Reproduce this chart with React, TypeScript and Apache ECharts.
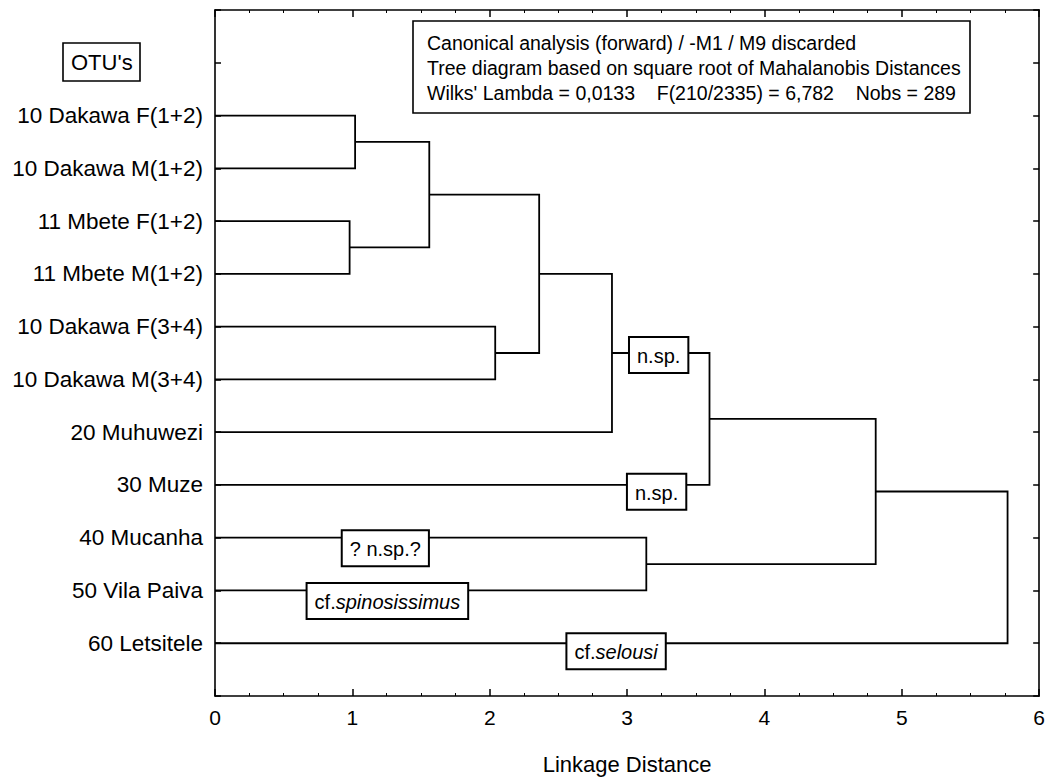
import React, { useEffect, useRef } from 'react';
import * as echarts from 'echarts';

const FONT = '"Liberation Sans", Arial, Helvetica, sans-serif';

const leaves = [
  '10 Dakawa F(1+2)',
  '10 Dakawa M(1+2)',
  '11 Mbete F(1+2)',
  '11 Mbete M(1+2)',
  '10 Dakawa F(3+4)',
  '10 Dakawa M(3+4)',
  '20 Muhuwezi',
  '30 Muze',
  '40 Mucanha',
  '50 Vila Paiva',
  '60 Letsitele',
];

// merges: node ids 0..10 are leaves, 11.. are clusters in order of creation
const mergeLeft = [0, 2, 11, 4, 13, 15, 16, 8, 17, 19];
const mergeRight = [1, 3, 12, 5, 14, 6, 7, 9, 18, 10];
const mergeHeight = [1.02, 0.98, 1.56, 2.04, 2.36, 2.89, 3.6, 3.14, 4.81, 5.77];

const cladePlain = ['n.sp.', 'n.sp.', '? n.sp.?', 'cf.', 'cf.'];
const cladeItalic = ['', '', '', 'spinosissimus', 'selousi'];
const cladeX = [3.23, 3.215, 1.24, 1.255, 2.92];
const cladeY = [6.54, 9.13, 10.2, 11.2, 12.15];

const infoLines = [
  'Canonical analysis (forward) / -M1 / M9 discarded',
  'Tree diagram based on square root of Mahalanobis Distances',
  "Wilks' Lambda = 0,0133\u00a0\u00a0\u00a0\u00a0F(210/2335) = 6,782\u00a0\u00a0\u00a0\u00a0Nobs = 289",
];
const otuTitle = "OTU's";
const xAxisName = 'Linkage Distance';
const xMin = 0;
const xMax = 6;

const mkLine = () => ({ show: true, onZero: false, lineStyle: { color: '#000', width: 1.6 } });
const mkTick = (len: number) => ({
  show: true,
  inside: true,
  length: len,
  lineStyle: { color: '#000', width: 1.5 },
});
const mkMinor = () => ({ show: true, splitNumber: 4, length: 3, lineStyle: { color: '#000', width: 1 } });

export default function App() {
  const ref = useRef<HTMLDivElement>(null);

  useEffect(() => {
    if (!ref.current) return;
    const chart = echarts.init(ref.current, undefined, { renderer: 'svg' });

    const n = leaves.length;
    const yMax = n + 2;
    const nodeX: number[] = [];
    const nodeY: number[] = [];
    for (let i = 0; i < n; i++) {
      nodeX.push(0);
      nodeY.push(i + 2);
    }
    const segs: number[][][] = [];
    for (let k = 0; k < mergeHeight.length; k++) {
      const l = mergeLeft[k];
      const r = mergeRight[k];
      const h = mergeHeight[k];
      segs.push([
        [nodeX[l], nodeY[l]],
        [h, nodeY[l]],
        [h, nodeY[r]],
        [nodeX[r], nodeY[r]],
      ]);
      nodeX.push(h);
      nodeY.push((nodeY[l] + nodeY[r]) / 2);
    }

    chart.setOption({
      animation: false,
      backgroundColor: '#fff',
      title: [
        {
          text: infoLines.join('\n'),
          left: 413,
          top: 21,
          padding: [9, 10, 8, 14],
          borderColor: '#000',
          borderWidth: 1.6,
          backgroundColor: '#fff',
          textStyle: { fontSize: 19.5, fontWeight: 'normal', lineHeight: 25, color: '#000', fontFamily: FONT },
          z: 10,
        },
        {
          text: otuTitle,
          left: 63,
          top: 43,
          padding: [8, 8, 8, 8],
          borderColor: '#000',
          borderWidth: 1.6,
          textStyle: { fontSize: 22, fontWeight: 'normal', color: '#000', fontFamily: FONT },
        },
      ],
      grid: { left: 215, right: 5, top: 10, bottom: 84, containLabel: false },
      xAxis: [
        {
          type: 'value',
          min: xMin,
          max: xMax,
          interval: 1,
          position: 'bottom',
          axisLine: mkLine(),
          axisTick: mkTick(7),
          minorTick: mkMinor(),
          splitLine: { show: false },
          axisLabel: { color: '#000', fontSize: 21, margin: 11, fontFamily: FONT },
          name: xAxisName,
          nameLocation: 'middle',
          nameGap: 57,
          nameTextStyle: { color: '#000', fontSize: 22, fontFamily: FONT },
        },
        {
          type: 'value',
          min: xMin,
          max: xMax,
          interval: 1,
          position: 'top',
          axisLine: mkLine(),
          axisTick: mkTick(7),
          minorTick: mkMinor(),
          splitLine: { show: false },
          axisLabel: { show: false },
        },
      ],
      yAxis: [
        {
          type: 'value',
          inverse: true,
          min: 0,
          max: yMax,
          interval: 1,
          position: 'left',
          axisLine: mkLine(),
          axisTick: mkTick(6),
          splitLine: { show: false },
          axisLabel: {
            color: '#000',
            fontSize: 22.5,
            margin: 12,
            fontFamily: FONT,
            formatter: (v: number) => {
              const i = Math.round(v) - 2;
              return i >= 0 && i < n ? leaves[i] : '';
            },
          },
        },
        {
          type: 'value',
          inverse: true,
          min: 0,
          max: yMax,
          interval: 1,
          position: 'right',
          axisLine: mkLine(),
          axisTick: mkTick(6),
          splitLine: { show: false },
          axisLabel: { show: false },
        },
      ],
      series: [
        {
          type: 'lines',
          coordinateSystem: 'cartesian2d',
          xAxisIndex: 0,
          yAxisIndex: 0,
          polyline: true,
          silent: true,
          z: 2,
          lineStyle: { color: '#000', width: 1.8, opacity: 1 },
          data: segs.map((c) => ({ coords: c })),
        },
        {
          type: 'custom',
          coordinateSystem: 'cartesian2d',
          xAxisIndex: 0,
          yAxisIndex: 0,
          z: 5,
          silent: true,
          data: cladePlain.map((p, i) => [cladeX[i], cladeY[i], i]),
          renderItem: (params: any, api: any) => {
            const pt = api.coord([api.value(0), api.value(1)]);
            const i = api.value(2);
            const text = cladeItalic[i]
              ? `{n|${cladePlain[i]}}{i|${cladeItalic[i]}}`
              : `{n|${cladePlain[i]}}`;
            return {
              type: 'text',
              x: pt[0],
              y: pt[1],
              style: {
                text,
                align: 'center',
                verticalAlign: 'middle',
                fill: '#000',
                fontSize: 20,
                fontFamily: FONT,
                backgroundColor: '#fff',
                borderColor: '#000',
                borderWidth: 2,
                padding: [8, 7, 6, 7],
                rich: {
                  n: { fontSize: 20, fontFamily: FONT, fill: '#000' },
                  i: { fontSize: 20, fontFamily: FONT, fill: '#000', fontStyle: 'italic' },
                },
              },
            };
          },
        },
      ],
    });

    return () => chart.dispose();
  }, []);

  return (
    <div
      ref={ref}
      style={{ position: 'fixed', left: 0, top: 0, width: 1048, height: 780, background: '#fff' }}
    />
  );
}
